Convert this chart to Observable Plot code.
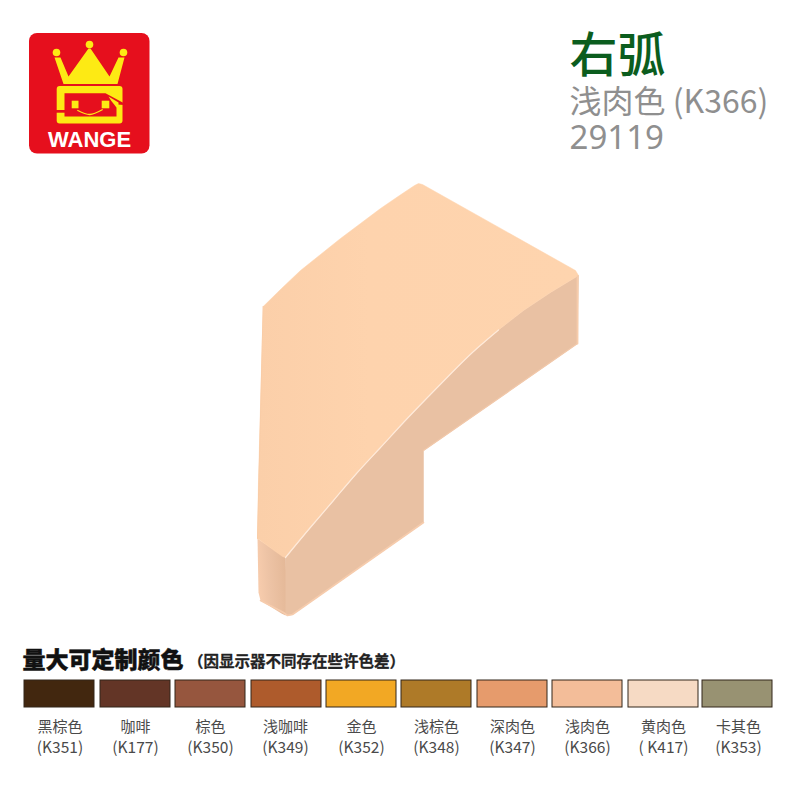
<!DOCTYPE html>
<html><head><meta charset="utf-8">
<script src="https://cdn.jsdelivr.net/npm/d3@7"></script>
<script src="https://cdn.jsdelivr.net/npm/@observablehq/plot@0.6"></script>
<style>html,body{margin:0;padding:0;background:#fff}svg{display:block}</style>
</head><body><div id="chart"></div>
<script>
const colorNames = ["黑棕色","咖啡","棕色","浅咖啡","金色","浅棕色","深肉色","浅肉色","黄肉色","卡其色"];
const colorCodes = ["(K351)","(K177)","(K350)","(K349)","(K352)","(K348)","(K347)","(K366)","( K417)","(K353)"];
const colorFills = ["#42270f","#633526","#96563e","#ae5b2c","#f2a824","#ae7a28","#e69b6c","#f3bd99","#f6dac4","#989272"];
const swatchLeft = [24,100,175,251,326,401,477,552,628,702];
const labelCenter = [59.5,135,210,285,361,436,512,587,663,738];

const curveFront = [[285,557],[309,528],[333,500],[356,473],[380,447],[403,422],[427,397],[450,373.5],[473,351],[498,329.5],[523,310],[550,292],[578,275]];
const pieceTop = [[262.7,306],[281,288],[300,270],[320,254],[340,238],[360,223],[380,208],[399,195],[414,185],[418,183],[422,184],[575,270],[578,275],...curveFront.slice().reverse().slice(1),[282,556],[257,538],[258,480]];
const pieceSide = [[578,275],[577,343],[423,450],[423,522],[292,614],[287,615],[283,612],[285,557],...curveFront.slice(1,-1)];
const pieceFront = [[257,538],[285,557],[285,615],[281,613],[260,600],[258,592]];
const ridge = [[285,557],[309,528],[333,500],[356,473],[380,447],[403,422],[427,397],[450,373.5],[473,351],[498,329.5]];
const topLeftEdge = [[262.7,306],[257,538]];
const sideBottom = [[577,343],[423,450]];
const sideBottom2 = [[423,522],[292,614],[287,615],[283,612],[260,600]];
const sideRight = [[577,276],[577,343]];

const crown = [[54,57],[60,57],[68,76],[88,48],[90,48],[109,76],[118,57],[124,57],[117,83.4],[63,83.4]];
const jewels = [[56,52],[89,44],[123,52]];
const logoInner = [[64,92.7],[105,92.7],[124,103],[124,104.5],[116,104],[116,116],[64,116]];
const logoTab = [[108,96],[118,102],[118,106],[116,107],[110.5,100]];
const smile = [[77.3,110],[89.3,114],[101.7,109.3]];
const eyes = [[71.7,100.7,78.5,108.3],[101.7,100.7,109.3,108.3]];

const rowTop = 680, rowBottom = 707, swatchWidth = 70;
const rows = colorNames.map((name,i)=>({name,code:colorCodes[i],fill:colorFills[i],x1:swatchLeft[i],x2:swatchLeft[i]+swatchWidth,cx:labelCenter[i]}));
const CJK = "'Noto Sans CJK SC','Noto Sans',sans-serif";

const defs = () => {
  const s = d3.create("svg:defs");
  const g = s.append("linearGradient").attr("id","front").attr("x1",0).attr("y1",0.2).attr("x2",1).attr("y2",0);
  g.append("stop").attr("offset","0%").attr("stop-color","#f6cbac");
  g.append("stop").attr("offset","35%").attr("stop-color","#edc3a5");
  g.append("stop").attr("offset","100%").attr("stop-color","#e3b796");
  const t = s.append("linearGradient").attr("id","topface").attr("x1",0).attr("y1",0).attr("x2",1).attr("y2",0);
  t.append("stop").attr("offset","0%").attr("stop-color","#fbcfa9");
  t.append("stop").attr("offset","35%").attr("stop-color","#fed3ad");
  t.append("stop").attr("offset","100%").attr("stop-color","#fed4ae");
  return s.node();
};
const poly = (pts,o) => Plot.line(pts,{x:d=>d[0],y:d=>d[1],...o});
const box = (arr,o) => Plot.rect(arr,{x1:d=>d[0],y1:d=>d[1],x2:d=>d[2],y2:d=>d[3],...o});

const plot = Plot.plot({
  width:800,height:800,margin:0,
  x:{domain:[0,800],range:[0,800],axis:null},
  y:{domain:[0,800],range:[0,800],axis:null},
  style:{background:"#fff"},
  marks:[
    defs,
    // logo
    box([[29,33,149.5,153.5]],{fill:"#e60f1d",rx:8}),
    poly([...crown,crown[0]],{fill:"#fdea14",stroke:"none"}),
    Plot.dot(jewels,{x:d=>d[0],y:d=>d[1],r:3.8,fill:"#fdea14"}),
    box([[56.7,86,122.5,123.5]],{fill:"#fdea14",rx:3}),
    poly([...logoInner,logoInner[0]],{fill:"#e60f1d",stroke:"none"}),
    poly([...logoTab,logoTab[0]],{fill:"#fdea14",stroke:"none"}),
    box([[55,110,65,112.7]],{fill:"#e60f1d"}),
    box(eyes,{fill:"#fdea14"}),
    poly(smile,{curve:"natural",stroke:"#fdea14",strokeWidth:1.3}),
    Plot.text(["WANGE"],{x:()=>89,y:()=>139,fill:"#fff",fontFamily:"'Liberation Sans',Arial,sans-serif",fontWeight:"bold",fontSize:22,lineAnchor:"middle"}),
    // header
    Plot.text(["右弧"],{x:()=>569,y:()=>56,textAnchor:"start",lineAnchor:"middle",fill:"#0b5d1e",fontFamily:CJK,fontWeight:500,fontSize:48}),
    Plot.text(["浅肉色 (K366)"],{x:()=>569,y:()=>102,textAnchor:"start",lineAnchor:"middle",fill:"#8f8f8f",fontFamily:CJK,fontSize:32}),
    Plot.text(["29119"],{x:()=>569,y:()=>138,textAnchor:"start",lineAnchor:"middle",fill:"#8f8f8f",fontFamily:"'Noto Sans',sans-serif",fontSize:33}),
    // piece
    poly([...pieceSide,pieceSide[0]],{fill:"#e9c1a3",stroke:"#e9c1a3",strokeWidth:0.5}),
    poly([...pieceFront,pieceFront[0]],{fill:"url(#front)",stroke:"none"}),
    poly([...pieceTop,pieceTop[0]],{fill:"url(#topface)",stroke:"#fed3ad",strokeWidth:0.5,strokeLinejoin:"round"}),
    poly(ridge,{stroke:"#ffeada",strokeWidth:1.2,curve:"natural"}),
    poly(topLeftEdge,{stroke:"#f9cca6",strokeWidth:1}),
    poly(sideBottom,{stroke:"#f1c8aa",strokeWidth:1.2}),
    poly(sideBottom2,{stroke:"#f6ccad",strokeWidth:1.6}),
    poly(sideRight,{stroke:"#f6ccac",strokeWidth:1.8}),
    // footer
    Plot.text(["量大可定制颜色"],{x:()=>22,y:()=>660,textAnchor:"start",lineAnchor:"middle",fill:"#111",stroke:"#111",strokeWidth:0.5,fontFamily:CJK,fontWeight:900,fontSize:23}),
    Plot.text(["（因显示器不同存在些许色差）"],{x:()=>296,y:()=>662,lineAnchor:"middle",fill:"#222",stroke:"#222",strokeWidth:0.3,fontFamily:CJK,fontWeight:700,fontSize:15.5}),
    Plot.rect(rows,{x1:"x1",x2:"x2",y1:()=>rowTop,y2:()=>rowBottom,fill:"fill",stroke:"#33261a",strokeWidth:1}),
    Plot.text(rows,{x:"cx",y:()=>727,text:"name",lineAnchor:"middle",fill:"#4a4a4a",fontFamily:CJK,fontSize:15}),
    Plot.text(rows,{x:"cx",y:()=>748,text:"code",lineAnchor:"middle",fill:"#4a4a4a",fontFamily:CJK,fontSize:15.5})
  ]
});
document.getElementById("chart").append(plot);
</script></body></html>
